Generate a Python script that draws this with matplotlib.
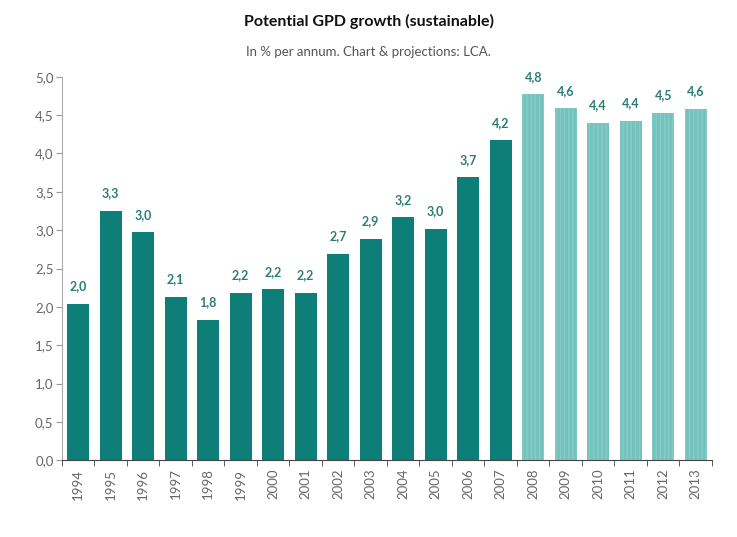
import matplotlib
matplotlib.use('Agg')
from matplotlib import pyplot as plt
import numpy as np

years = [str(y) for y in range(1994, 2014)]
growth = [2.04, 3.25, 2.97, 2.13, 1.83, 2.18, 2.23, 2.18, 2.69, 2.89,
          3.17, 3.02, 3.69, 4.17, 4.77, 4.59, 4.40, 4.43, 4.53, 4.58]
labels = ['2,0', '3,3', '3,0', '2,1', '1,8', '2,2', '2,2', '2,2', '2,7', '2,9',
          '3,2', '3,0', '3,7', '4,2', '4,8', '4,6', '4,4', '4,4', '4,5', '4,6']
first_projection = '2008'

plt.rcParams['font.family'] = ['Lato', 'DejaVu Sans']
dark = '#0e7f78'
light = '#74c2bd'

fig = plt.figure(figsize=(7.37, 5.37), dpi=100)
ax = fig.add_axes([0.084, 0.143, 0.882, 0.714])

x = np.arange(len(years))
proj = years.index(first_projection)
ax.bar(x[:proj], growth[:proj], width=0.68, color=dark)
ax.bar(x[proj:], growth[proj:], width=0.68, color=light,
       hatch='||||', edgecolor='#88ccc8', linewidth=0)

for xi, yi, lab in zip(x, growth, labels):
    ax.text(xi, yi + 0.15, lab, ha='center', va='bottom', fontsize=9,
            fontweight='bold', color='#2b7d76')

ax.set_xlim(-0.5, len(years) - 0.5)
ax.set_ylim(0, 5.0)
ax.set_yticks(np.arange(0, 5.01, 0.5))
ax.set_yticklabels([f'{v:.1f}'.replace('.', ',') for v in np.arange(0, 5.01, 0.5)],
                   fontsize=9.5, color='#666666')
ax.set_xticks(x)
ax.set_xticklabels(years, rotation=90, fontsize=9.5, color='#666666')
ax.tick_params(axis='x', length=0, pad=6)
ax.set_xticks(np.arange(-0.5, len(years), 1), minor=True)
ax.tick_params(axis='x', which='minor', length=4, color='#444444')
ax.tick_params(axis='y', length=4, color='#999999', pad=2)

for side in ['top', 'right']:
    ax.spines[side].set_visible(False)
ax.spines['left'].set_color('#aaaaaa')
ax.spines['bottom'].set_color('#444444')

fig.text(0.5, 0.96, 'Potential GPD growth (sustainable)', ha='center',
         va='center', fontsize=11.5, fontweight='bold', color='#111111')
fig.text(0.5, 0.903, 'In % per annum. Chart & projections: LCA.', ha='center',
         va='center', fontsize=9.5, color='#555555')

fig.savefig('out.png', dpi=100)
